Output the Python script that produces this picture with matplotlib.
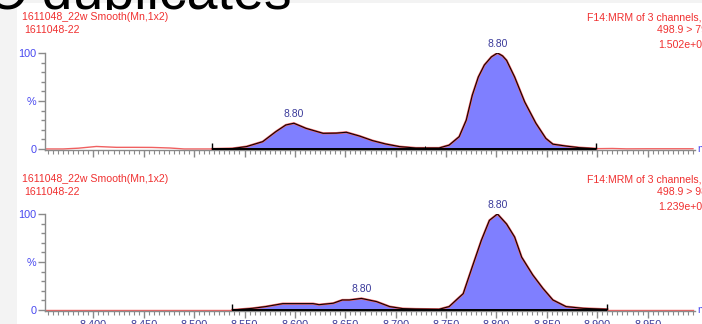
import matplotlib.pyplot as plt
from matplotlib.patches import Rectangle
from matplotlib.ticker import MultipleLocator, FixedLocator, NullFormatter, FixedFormatter

plt.rcParams['font.family'] = ['Liberation Sans', 'DejaVu Sans']

# --- run 1: integrated window (retention time, % of base peak)
top_rt = [8.518, 8.538, 8.552, 8.568, 8.581, 8.591, 8.599, 8.611, 8.628, 8.641,
          8.651, 8.664, 8.677, 8.690, 8.704, 8.720, 8.743, 8.753, 8.763, 8.770,
          8.776, 8.782, 8.788, 8.795, 8.801, 8.806, 8.810, 8.818, 8.828, 8.839,
          8.849, 8.856, 8.869, 8.882, 8.899]
top_int = [0.0, 0.5, 2.5, 7.6, 18.0, 25.0, 26.8, 21.5, 16.3, 16.5,
           17.4, 13.5, 8.7, 5.2, 2.4, 1.0, 1.0, 4.0, 12.8, 30.0,
           56.0, 75.0, 87.5, 96.0, 100.0, 97.0, 92.4, 75.0, 49.0, 27.0,
           11.0, 5.0, 3.0, 1.4, 0.3]
top_pre_rt = [8.352, 8.370, 8.385, 8.403, 8.423, 8.440, 8.458, 8.476, 8.490, 8.518]
top_pre_int = [0.0, 0.0, 0.8, 2.6, 1.7, 1.7, 1.6, 1.0, 0.0, 0.0]
top_post_rt = [8.899, 8.915, 8.929, 8.950, 8.995]
top_post_int = [0.3, 0.5, 0.1, 0.2, 0.2]

# --- run 2
bot_rt = [8.538, 8.558, 8.571, 8.588, 8.618, 8.624, 8.638, 8.647, 8.654, 8.666,
          8.681, 8.694, 8.707, 8.720, 8.743, 8.753, 8.767, 8.776, 8.785, 8.793,
          8.801, 8.810, 8.818, 8.825, 8.836, 8.846, 8.856, 8.869, 8.886, 8.910]
bot_int = [0.0, 1.7, 3.5, 6.6, 6.6, 5.5, 7.0, 10.4, 10.4, 12.0,
           8.7, 3.5, 1.4, 1.0, 0.7, 3.5, 17.0, 45.0, 72.6, 93.4,
           100.0, 89.6, 76.0, 55.0, 36.5, 22.6, 10.4, 3.5, 1.7, 0.7]
bot_pre_rt = [8.352, 8.538]
bot_pre_int = [0.0, 0.0]
bot_post_rt = [8.910, 8.995]
bot_post_int = [0.3, 0.3]

# peak annotations (apex index into the integrated window)
top_labels = ["8.80", "8.80"]
top_apex = [6, 24]
bot_labels = ["8.80", "8.80"]
bot_apex = [9, 20]

headers = [("1611048_22w Smooth(Mn,1x2)", "1611048-22",
            "F14:MRM of 3 channels,ES-", "498.9 > 79.0", "1.502e+005"),
           ("1611048_22w Smooth(Mn,1x2)", "1611048-22",
            "F14:MRM of 3 channels,ES-", "498.9 > 98.0", "1.239e+005")]

x_ticks = [8.40, 8.45, 8.50, 8.55, 8.60, 8.65, 8.70, 8.75, 8.80, 8.85, 8.90, 8.95]
x_labels = ["8.400", "8.450", "8.500", "8.550", "8.600", "8.650", "8.700",
            "8.750", "8.800", "8.850", "8.900", "8.950"]

RED = "#f03030"
TRACE = "#f06060"
FILL = "#7f7fff"
BLUE = "#4848f0"
DARKBLUE = "#3a3a9a"
W, H = 702, 324

fig = plt.figure(figsize=(7.02, 3.24), dpi=100, facecolor="#f3f3f3")
# white page behind the title, then the chart sheet that hides its lower part
fig.patches.append(Rectangle((17 / W, 0), 1, (H - 3) / H, transform=fig.transFigure,
                             facecolor="white", edgecolor="none", zorder=0))
fig.patches.append(Rectangle((17 / W, 0), 1, (H - 10) / H, transform=fig.transFigure,
                             facecolor="white", edgecolor="none", zorder=2))

fig.text(-14 / W, 1 - 9 / H, "C duplicates", fontsize=40, color="black",
         ha="left", va="baseline", zorder=1)

panels = [
    (0.5358, top_rt, top_int, top_pre_rt, top_pre_int, top_post_rt, top_post_int,
     top_labels, top_apex, False),
    (0.0389, bot_rt, bot_int, bot_pre_rt, bot_pre_int, bot_post_rt, bot_post_int,
     bot_labels, bot_apex, True),
]

for i, (bottom, rt, inten, pre_rt, pre_int, post_rt, post_int, labels, apex, show_x) in enumerate(panels):
    ax = fig.add_axes([45 / W, bottom, 650 / W, 0.3006])
    ax.set_zorder(3)
    ax.set_facecolor("none")

    ax.plot(pre_rt, pre_int, color=TRACE, lw=1.0, zorder=2)
    ax.plot(post_rt, post_int, color=TRACE, lw=1.0, zorder=2)
    ax.fill_between(rt, inten, 0, color=FILL, lw=0, zorder=2)
    ax.plot(rt, inten, color=TRACE, lw=1.6, zorder=3)
    ax.plot(rt, inten, color="#100000", lw=0.8, zorder=4)
    ax.hlines(0, rt[0], rt[-1], color="black", lw=1.4, zorder=5)
    ax.vlines([rt[0], rt[-1]], 0, 6, color="black", lw=1.0, zorder=5)
    if i == 0:
        ax.vlines(top_rt[16] - 0.014, 0, 3, color="black", lw=0.7, zorder=5)

    for lab, k in zip(labels, apex):
        ax.annotate(lab, (rt[k], inten[k]), xytext=(0, 3), textcoords="offset points",
                    ha="center", va="bottom", fontsize=7.5, color=DARKBLUE)

    ax.set_xlim(8.352, 8.997)
    ax.set_ylim(-1.5, 100)

    for side in ("top", "right"):
        ax.spines[side].set_visible(False)
    for side in ("left", "bottom"):
        ax.spines[side].set_color("#8a8a8a")
        ax.spines[side].set_linewidth(1.0)

    ax.yaxis.set_major_locator(FixedLocator([0, 50, 100]))
    ax.yaxis.set_major_formatter(FixedFormatter(["0", "%", "100"]))
    ax.yaxis.set_minor_locator(MultipleLocator(10))
    ax.tick_params(axis="y", which="major", length=5, width=1, color="#8a8a8a",
                   labelsize=7.8, labelcolor=BLUE, pad=1)
    ax.tick_params(axis="y", which="minor", length=3, width=1, color="#8a8a8a")

    ax.xaxis.set_major_locator(FixedLocator(x_ticks))
    ax.xaxis.set_minor_locator(MultipleLocator(0.005))
    ax.tick_params(axis="x", which="major", length=5, width=1, color="#8a8a8a",
                   labelsize=7.8, labelcolor=DARKBLUE, pad=1)
    ax.tick_params(axis="x", which="minor", length=3, width=0.8, color="#8a8a8a")
    if show_x:
        ax.set_xticklabels(x_labels)
    else:
        ax.xaxis.set_major_formatter(NullFormatter())

    ax.text(1.004, 0.01, "min", transform=ax.transAxes, fontsize=7.8, color=BLUE,
            ha="left", va="center", clip_on=False)

    run, sample, func, trans, tic = headers[i]
    y0 = 17 if i == 0 else 179
    kw = dict(fontsize=7.6, color=RED, va="center", zorder=4)
    fig.text(22 / W, 1 - y0 / H, run, **kw)
    fig.text(24 / W, 1 - (y0 + 13) / H, sample, **kw)
    fig.text(587 / W, 1 - y0 / H, func, **kw)
    fig.text(657 / W, 1 - (y0 + 13) / H, trans, **kw)
    fig.text(658 / W, 1 - (y0 + 28) / H, tic, **kw)

fig.savefig("out.png", dpi=100, facecolor=fig.get_facecolor())
